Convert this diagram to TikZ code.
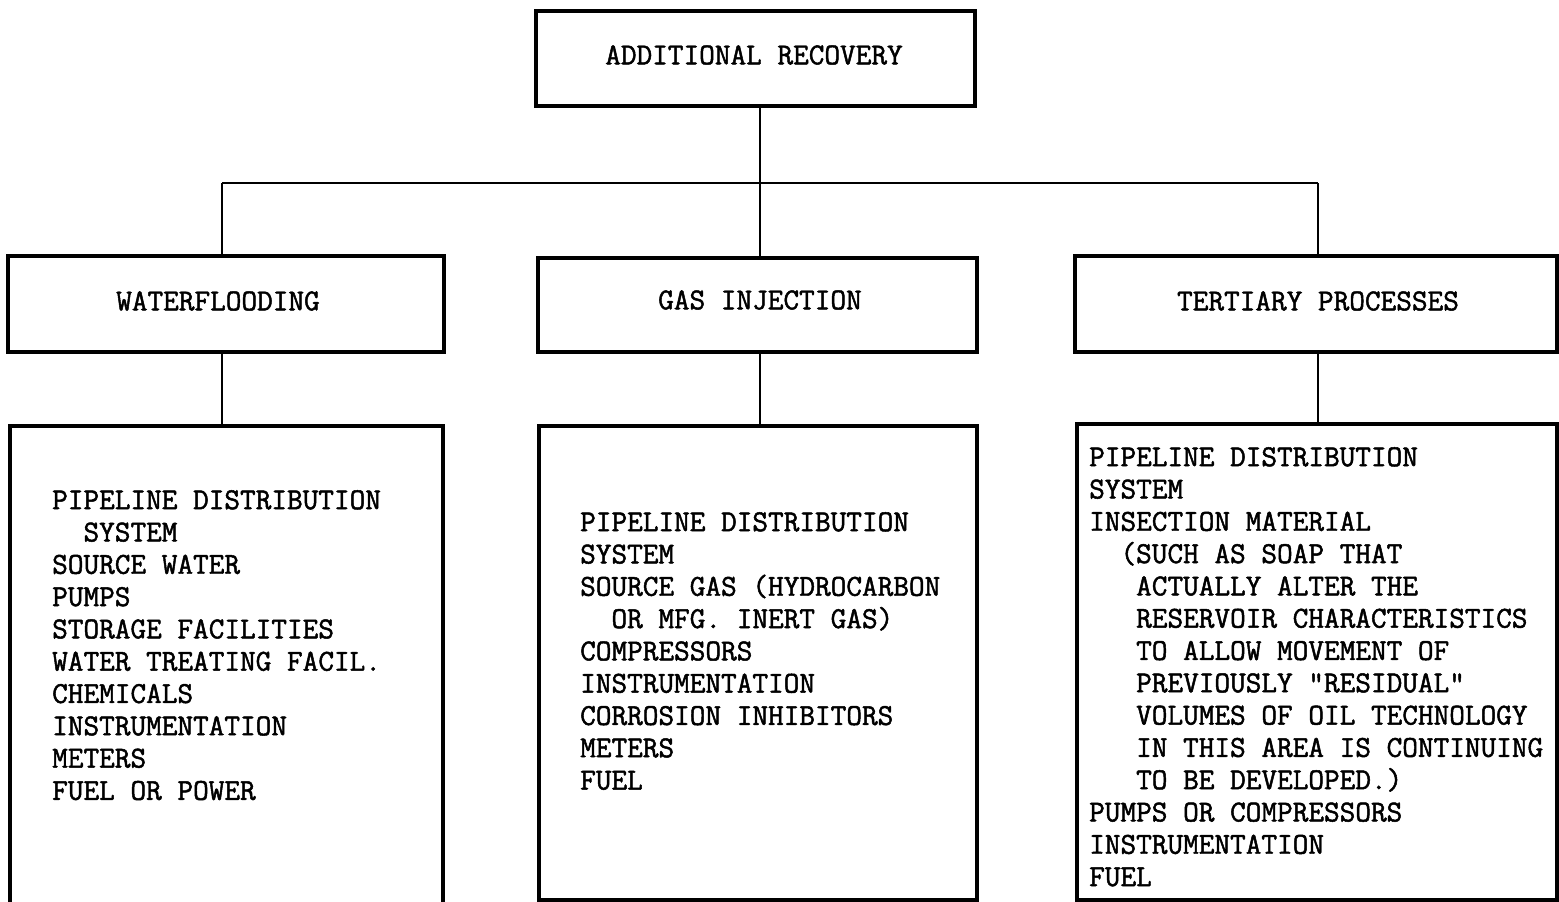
\documentclass[tikz,border=0pt]{standalone}
\usepackage{fontspec}
\newfontfamily\tw[FakeBold=1.6]{Latin Modern Mono}
\begin{document}
\begin{tikzpicture}[x=1pt,y=-1pt,
  box/.style={draw, line width=3.5pt, rectangle, inner sep=0pt},
  link/.style={draw, line width=2.2pt},
  head/.style={font=\tw\fontsize{30.4}{32.3}\selectfont, inner sep=0pt},
  items/.style={font=\tw\fontsize{30.4}{32.3}\selectfont, inner sep=0pt, align=left, anchor=north west}]
\clip (0,0) rectangle (1559,902);
\fill[white] (0,0) rectangle (1559,902);

% top level
\node[box, minimum width=439pt, minimum height=95pt] (top) at (755.5,58.5) {};
\node[head] (toptxt) at (754,55) {ADDITIONAL RECOVERY};

% second level
\node[box, minimum width=436pt, minimum height=96pt] (wf) at (226,304) {};
\node[box, minimum width=439pt, minimum height=94pt] (gi) at (757.5,305) {};
\node[box, minimum width=482pt, minimum height=96pt] (tp) at (1316,304) {};
\node[head] (wftxt) at (218,301) {WATERFLOODING};
\node[head] (gitxt) at (760,300) {GAS INJECTION};
\node[head] (tptxt) at (1318,301) {TERTIARY PROCESSES};

% third level (running past the lower edge)
\node[box, minimum width=433pt, minimum height=520pt] (wfl) at (226.5,686) {};
\node[box, minimum width=438pt, minimum height=474pt] (gil) at (758,663) {};
\node[box, minimum width=480pt, minimum height=476pt] (tpl) at (1317,662) {};

% junctions
\coordinate (bus) at (760,183);
\coordinate (jl) at (222,183);
\coordinate (jr) at (1318,183);
\coordinate (dl) at (222,352);
\coordinate (dm) at (760,352);
\coordinate (dr) at (1318,352);

\draw[link] (bus |- top.south) -- (bus);
\draw[link] (jl) -- (jr);
\draw[link] (jl) -- (jl |- wf.north);
\draw[link] (bus) -- (bus |- gi.north);
\draw[link] (jr) -- (jr |- tp.north);
\draw[link] (dl |- wf.south) -- (dl |- wfl.north);
\draw[link] (dm |- gi.south) -- (dm |- gil.north);
\draw[link] (dr |- tp.south) -- (dr |- tpl.north);

% item lists
\node[items] (wfi) at (52,490) {PIPELINE DISTRIBUTION\\
\ \ SYSTEM\\
SOURCE WATER\\
PUMPS\\
STORAGE FACILITIES\\
WATER TREATING FACIL.\\
CHEMICALS\\
INSTRUMENTATION\\
METERS\\
FUEL OR POWER};

\node[items] (gii) at (580,512) {PIPELINE DISTRIBUTION\\
SYSTEM\\
SOURCE GAS (HYDROCARBON\\
\ \ OR MFG. INERT GAS)\\
COMPRESSORS\\
INSTRUMENTATION\\
CORROSION INHIBITORS\\
METERS\\
FUEL};

\node[items] (tpi) at (1089,447) {PIPELINE DISTRIBUTION\\
SYSTEM\\
INSECTION MATERIAL\\
\ \ (SUCH AS SOAP THAT\\
\ \ \ ACTUALLY ALTER THE\\
\ \ \ RESERVOIR CHARACTERISTICS\\
\ \ \ TO ALLOW MOVEMENT OF\\
\ \ \ PREVIOUSLY "RESIDUAL"\\
\ \ \ VOLUMES OF OIL TECHNOLOGY\\
\ \ \ IN THIS AREA IS CONTINUING\\
\ \ \ TO BE DEVELOPED.)\\
PUMPS OR COMPRESSORS\\
INSTRUMENTATION\\
FUEL};
\end{tikzpicture}
\end{document}
